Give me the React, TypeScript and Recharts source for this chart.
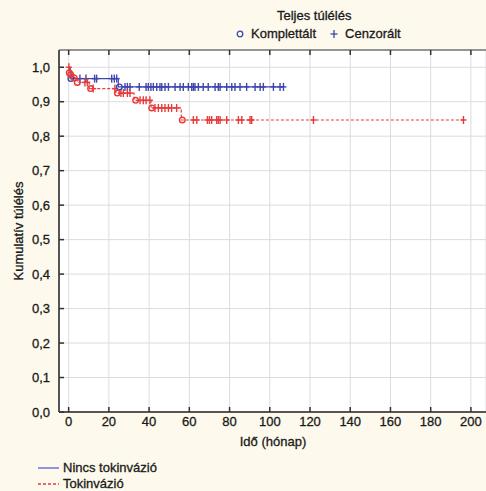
import React from 'react';
import { ComposedChart, Line, Scatter, XAxis, YAxis, CartesianGrid } from 'recharts';

const xTicks = [0, 20, 40, 60, 80, 100, 120, 140, 160, 180, 200];
const yTicks = [0, 0.1, 0.2, 0.3, 0.4, 0.5, 0.6, 0.7, 0.8, 0.9, 1.0];

// Nincs tokinvázió (blue)
const blueStepTimes = [0, 0.8, 24.7, 106.8];
const blueStepSurv = [1.0, 0.967, 0.943, 0.943];
const blueEventTimes = [1.1, 25.2];
const blueEventSurv = [0.967, 0.943];
const blueCensorTimes = [5.6, 8.6, 12.9, 13.9, 21.4, 22.7, 23.9, 28.0, 29.2, 30.5, 35.1, 38.5, 39.6, 40.9, 42.1, 43.8, 45.4, 46.3, 47.9, 49.6, 52.9, 55.4, 57.0, 59.5, 61.2, 62.0, 62.8, 64.5, 66.9, 69.4, 72.8, 74.4, 75.3, 78.6, 81.1, 82.7, 85.2, 88.5, 92.7, 95.2, 96.8, 101.8, 105.1, 106.8];

// Tokinvázió (red)
const redStepTimes = [0, 0.3, 1.0, 2.8, 4.3, 10.2, 23.5, 32.5, 41.0, 56.0, 196.3];
const redStepSurv = [1.0, 0.984, 0.979, 0.969, 0.956, 0.938, 0.925, 0.904, 0.882, 0.847, 0.847];
const redEventTimes = [0.3, 1.0, 2.8, 4.3, 10.9, 24.2, 33.3, 41.3, 56.5];
const redEventSurv = [0.984, 0.979, 0.969, 0.956, 0.938, 0.925, 0.904, 0.882, 0.847];
const redCensorTimes = [0.1, 8.1, 9.3, 12.2, 23.0, 26.0, 27.2, 29.2, 30.5, 35.5, 37.1, 38.5, 40.4, 42.9, 44.6, 46.3, 47.9, 49.6, 51.2, 53.7, 62.0, 63.7, 69.0, 70.0, 71.1, 73.6, 74.4, 75.3, 78.6, 84.4, 86.1, 90.2, 91.0, 121.7, 196.3];

const BLUE = '#3f47ad';
const RED = '#e83a3a';
const FONT = 'Arial, "Liberation Sans", sans-serif';

const zip = (xs: number[], ys: number[]) => xs.map((x, i) => ({ x, y: ys[i] }));
const survAt = (xs: number[], ys: number[], t: number) => {
  let v = ys[0];
  for (let i = 0; i < xs.length; i++) if (xs[i] <= t) v = ys[i];
  return v;
};

const blueSteps = zip(blueStepTimes, blueStepSurv);
const redSteps = zip(redStepTimes, redStepSurv);
const blueEvents = zip(blueEventTimes, blueEventSurv);
const redEvents = zip(redEventTimes, redEventSurv);
const blueCensored = blueCensorTimes.map((t) => ({ x: t, y: survAt(blueStepTimes, blueStepSurv, t) }));
const redCensored = redCensorTimes.map((t) => ({ x: t, y: survAt(redStepTimes, redStepSurv, t) }));

const makePlus = (color: string) => (props: any) => {
  const { cx, cy } = props;
  if (cx == null || cy == null) return <g />;
  return (
    <g>
      <line x1={cx} x2={cx} y1={cy - 4} y2={cy + 4} stroke={color} strokeWidth={1.4} />
      <line x1={cx - 3} x2={cx + 3} y1={cy} y2={cy} stroke={color} strokeWidth={1.4} />
    </g>
  );
};
const makeCircle = (color: string) => (props: any) => {
  const { cx, cy } = props;
  if (cx == null || cy == null) return <g />;
  return <circle cx={cx} cy={cy} r={2.8} fill="none" stroke={color} strokeWidth={1.4} />;
};

const fmtY = (v: number) => v.toFixed(1).replace('.', ',');

const textStyle: React.CSSProperties = {
  position: 'absolute',
  fontFamily: FONT,
  fontSize: 13,
  color: '#1a1a1a',
  whiteSpace: 'nowrap',
  lineHeight: '15px',
  WebkitTextStroke: '0.3px #1a1a1a',
};

const tickStyle = { fill: '#1a1a1a', fontSize: 13, fontFamily: FONT, stroke: '#1a1a1a', strokeWidth: 0.3 };

export default function App() {
  return (
    <div style={{ position: 'absolute', left: 0, top: 0, width: 486, height: 491, background: '#fdf9ec', overflow: 'hidden' }}>
      <ComposedChart width={486} height={491} margin={{ top: 49, right: 0, bottom: 49, left: 19 }}>
        <CartesianGrid fill="#ffffff" stroke="#dcdcdc" strokeWidth={1} />
        <XAxis
          dataKey="x"
          type="number"
          domain={[-4.8, 207.5]}
          ticks={xTicks}
          allowDataOverflow
          height={30}
          tickSize={-5}
          tickMargin={10}
          tickLine={{ stroke: '#333', strokeWidth: 1.5 }}
          axisLine={{ stroke: '#555', strokeWidth: 2 }}
          tick={tickStyle}
        />
        <XAxis
          xAxisId="top"
          orientation="top"
          dataKey="x"
          type="number"
          domain={[-4.8, 207.5]}
          ticks={xTicks}
          allowDataOverflow
          height={1}
          tickSize={-5}
          tickFormatter={() => ''}
          tickLine={{ stroke: '#333', strokeWidth: 1.5 }}
          axisLine={{ stroke: '#777', strokeWidth: 1.5 }}
        />
        <YAxis
          dataKey="y"
          type="number"
          domain={[0, 1.05]}
          ticks={yTicks}
          allowDataOverflow
          width={40}
          tickSize={-5}
          tickMargin={14}
          tickFormatter={fmtY}
          tickLine={{ stroke: '#333', strokeWidth: 1.5 }}
          axisLine={{ stroke: '#555', strokeWidth: 2 }}
          tick={tickStyle}
        />
        <Line data={blueSteps} dataKey="y" type="stepAfter" stroke={BLUE} strokeWidth={1.2} dot={false} isAnimationActive={false} />
        <Line data={redSteps} dataKey="y" type="stepAfter" stroke={RED} strokeWidth={1.2} strokeDasharray="3 2" dot={false} isAnimationActive={false} />
        <Scatter data={blueCensored} shape={makePlus(BLUE)} isAnimationActive={false} />
        <Scatter data={redCensored} shape={makePlus(RED)} isAnimationActive={false} />
        <Scatter data={blueEvents} shape={makeCircle(BLUE)} isAnimationActive={false} />
        <Scatter data={redEvents} shape={makeCircle(RED)} isAnimationActive={false} />
      </ComposedChart>

      <div style={{ ...textStyle, left: 277, top: 8 }}>Teljes túlélés</div>
      <div style={{ ...textStyle, left: 235, top: 26, display: 'flex', alignItems: 'center' }}>
        <svg width={10} height={10} style={{ marginRight: 6 }}>
          <circle cx={5} cy={5} r={2.8} fill="none" stroke={BLUE} strokeWidth={1.3} />
        </svg>
        <span>Komplettált</span>
        <svg width={10} height={10} style={{ marginLeft: 13, marginRight: 6 }}>
          <line x1={5} x2={5} y1={1} y2={9} stroke={BLUE} strokeWidth={1.3} />
          <line x1={1.5} x2={8.5} y1={5} y2={5} stroke={BLUE} strokeWidth={1.3} />
        </svg>
        <span>Cenzorált</span>
      </div>

      <div
        style={{
          ...textStyle,
          left: 18,
          top: 231,
          transform: 'translate(-50%, -50%) rotate(-90deg)',
        }}
      >
        Kumulatív túlélés
      </div>

      <div style={{ ...textStyle, left: 273, top: 434, transform: 'translateX(-50%)' }}>Idő (hónap)</div>

      <div style={{ ...textStyle, left: 38, top: 460, display: 'flex', alignItems: 'center' }}>
        <svg width={21} height={6} style={{ marginRight: 4 }}>
          <line x1={0} x2={21} y1={3} y2={3} stroke="#6f6fd8" strokeWidth={1.5} />
        </svg>
        <span>Nincs tokinvázió</span>
      </div>
      <div style={{ ...textStyle, left: 38, top: 476, display: 'flex', alignItems: 'center' }}>
        <svg width={21} height={6} style={{ marginRight: 4 }}>
          <line x1={0} x2={21} y1={3} y2={3} stroke={RED} strokeWidth={1.3} strokeDasharray="3 2" />
        </svg>
        <span>Tokinvázió</span>
      </div>
    </div>
  );
}
